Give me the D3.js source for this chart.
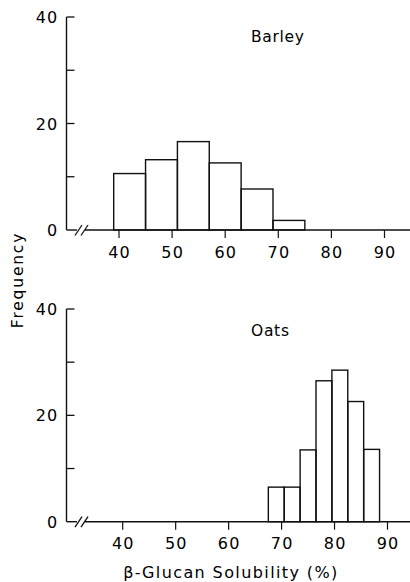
<!DOCTYPE html>
<html>
<head>
<meta charset="utf-8">
<script src="https://cdn.jsdelivr.net/npm/d3@7"></script>
<style>
  body { margin: 0; background: #fff; }
  svg text { font-family: "DejaVu Sans", sans-serif; fill: #000; }
</style>
</head>
<body>
<div id="chart"></div>
<script>
// bin edges and frequencies
const barleyEdges = [39, 45, 51, 57, 63, 69, 75];
const barleyFreq = [10.6, 13.2, 16.6, 12.6, 7.7, 1.8];
const oatsEdges = [67.5, 70.5, 73.5, 76.5, 79.5, 82.5, 85.5, 88.5];
const oatsFreq = [6.5, 6.5, 13.5, 26.5, 28.5, 22.6, 13.6];

const xTicks = [40, 50, 60, 70, 80, 90];
const yTicks = [0, 10, 20, 30, 40];
const yLabels = [0, 20, 40];

const W = 410, H = 582;

const svg = d3.select("#chart").append("svg")
    .attr("width", W)
    .attr("height", H);

// two panels, scanned figure -> slightly different placements
const panels = [
    { name: "Barley", edges: barleyEdges, freq: barleyFreq, x0: 119, x1: 384.5, y0: 230, y1: 17, title: 42 },
    { name: "Oats", edges: oatsEdges, freq: oatsFreq, x0: 122.7, x1: 387.5, y0: 521.7, y1: 309, title: 336 }
];

const axisX = 66.5;

panels.forEach(function (p) {
    const x = d3.scaleLinear().domain([40, 90]).range([p.x0, p.x1]);
    const y = d3.scaleLinear().domain([0, 40]).range([p.y0, p.y1]);

    const bins = p.freq.map((f, i) => ({ lo: p.edges[i], hi: p.edges[i + 1], f: f }));

    const g = svg.append("g");

    // bars
    g.selectAll(".bar")
        .data(bins)
        .enter().append("rect")
        .attr("class", "bar")
        .attr("x", d => x(d.lo))
        .attr("y", d => y(d.f))
        .attr("width", d => x(d.hi) - x(d.lo))
        .attr("height", d => y(0) - y(d.f))
        .attr("fill", "none")
        .attr("stroke", "#111")
        .attr("stroke-width", 1.4);

    // y axis line
    g.append("line")
        .attr("x1", axisX).attr("x2", axisX)
        .attr("y1", y(0)).attr("y2", y(40))
        .attr("stroke", "#111").attr("stroke-width", 1.4);

    // y ticks (pointing in)
    g.selectAll(".ytick")
        .data(yTicks.filter(d => d > 0))
        .enter().append("line")
        .attr("x1", axisX).attr("x2", axisX + 8)
        .attr("y1", d => y(d)).attr("y2", d => y(d))
        .attr("stroke", "#111").attr("stroke-width", 1.3);

    g.selectAll(".ylab")
        .data(yLabels)
        .enter().append("text")
        .attr("x", axisX - 8)
        .attr("y", d => y(d) + 6)
        .attr("text-anchor", "end")
        .attr("font-size", 16)
        .attr("letter-spacing", 1.2)
        .text(d => d);

    // baseline with break mark
    const yb = y(0);
    g.append("line")
        .attr("x1", axisX).attr("x2", 77)
        .attr("y1", yb).attr("y2", yb)
        .attr("stroke", "#111").attr("stroke-width", 1.4);
    g.append("line")
        .attr("x1", 85).attr("x2", W)
        .attr("y1", yb).attr("y2", yb)
        .attr("stroke", "#111").attr("stroke-width", 1.4);
    [0, 6].forEach(function (dx) {
        g.append("line")
            .attr("x1", 75 + dx).attr("x2", 82 + dx)
            .attr("y1", yb + 5.5).attr("y2", yb - 5)
            .attr("stroke", "#111").attr("stroke-width", 1.3);
    });

    // x ticks (pointing down)
    g.selectAll(".xtick")
        .data(xTicks)
        .enter().append("line")
        .attr("x1", d => x(d)).attr("x2", d => x(d))
        .attr("y1", yb).attr("y2", yb + 8)
        .attr("stroke", "#111").attr("stroke-width", 1.2);

    g.selectAll(".xlab")
        .data(xTicks)
        .enter().append("text")
        .attr("x", d => x(d) + 0.6)
        .attr("y", yb + 27.5)
        .attr("text-anchor", "middle")
        .attr("font-size", 16)
        .attr("letter-spacing", 1.2)
        .text(d => d);

    // panel title
    g.append("text")
        .attr("x", 251)
        .attr("y", p.title)
        .attr("font-size", 15.5)
        .attr("letter-spacing", 0.7)
        .text(p.name);
});

// shared axis titles
svg.append("text")
    .attr("transform", "translate(23,280) rotate(-90)")
    .attr("text-anchor", "middle")
    .attr("font-size", 15.5)
    .attr("letter-spacing", 1.8)
    .text("Frequency");

svg.append("text")
    .attr("x", 231)
    .attr("y", 578)
    .attr("text-anchor", "middle")
    .attr("font-size", 16)
    .attr("letter-spacing", 1.4)
    .text("β-Glucan Solubility (%)");
</script>
</body>
</html>
